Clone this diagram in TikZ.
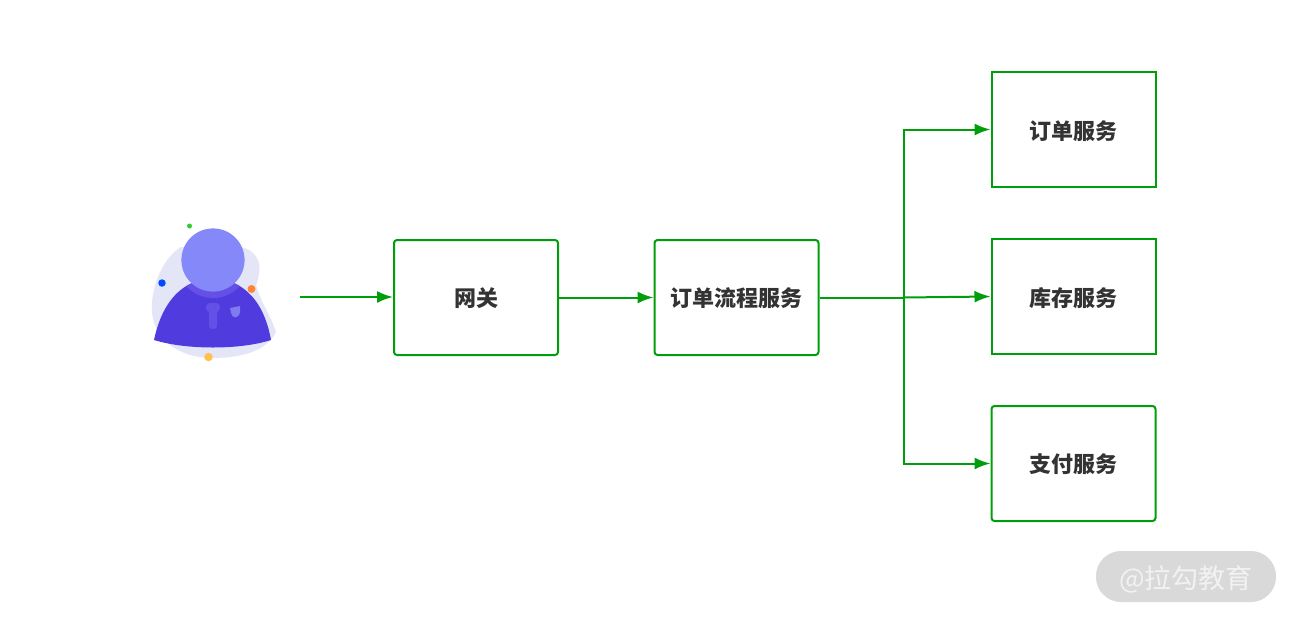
\documentclass[tikz,border=0pt]{standalone}
\usepackage{fontspec}
\setmainfont{Noto Sans CJK SC}
\usetikzlibrary{arrows.meta}
\definecolor{boxgreen}{rgb}{0.0,0.62,0.04}
\definecolor{labelgray}{rgb}{0.2,0.2,0.2}
\definecolor{blobblue}{HTML}{E4E6F7}
\definecolor{headblue}{HTML}{8588F8}
\definecolor{bodyblue}{HTML}{4F3BDE}
\definecolor{collarblue}{HTML}{6450E6}
\definecolor{pocketblue}{HTML}{7F7CF0}
\tikzset{
	servicebox/.style={draw=boxgreen, line width=2pt, fill=white, minimum width=164pt, minimum height=115pt, inner sep=0pt, text=labelgray, text height=20pt, text depth=0pt, font=\fontsize{22}{26}\selectfont\bfseries},
	roundbox/.style={servicebox, rounded corners=3pt, text depth=1.2pt},
	flowline/.style={draw=boxgreen, line width=2pt, -{Latex[length=16pt,width=12pt]}},
	dot/.style={circle, inner sep=0pt, minimum size=#1}
}
\begin{document}
\begin{tikzpicture}[x=1pt, y=-1pt]
	\useasboundingbox (0,0) rectangle (1296,619);
	\fill[blobblue] (181,247) .. controls (162,258) and (150,290) .. (152,312) .. controls (154,340) and (180,358) .. (212,358) .. controls (240,358) and (266,352) .. (276,332) .. controls (272,318) and (262,305) .. (256,285) .. controls (264,265) and (258,250) .. (240,247) -- cycle;
	\fill[bodyblue] (154,340) .. controls (160,312) and (172,293) .. (190,284) -- (213,275) -- (236,284) .. controls (254,293) and (266,312) .. (271,340) .. controls (240,350) and (186,350) .. (154,340) -- cycle;
	\begin{scope}
		\clip (154,340) .. controls (160,312) and (172,293) .. (190,284) -- (213,275) -- (236,284) .. controls (254,293) and (266,312) .. (271,340) -- cycle;
		\fill[collarblue] (213,262) circle (36);
	\end{scope}
	\fill[headblue] (213,260) circle (31.6);
	\fill[collarblue, rounded corners=3pt] (209,306) rectangle (217,329);
	\fill[collarblue, rounded corners=4pt] (206,303) rectangle (220,312);
	\fill[pocketblue] (230,308) -- (240,306) -- (240,312) .. controls (239,319) and (232,319) .. (231,313) -- cycle;
	\node[dot=7.5pt, fill=blue!70!cyan] (bluedot) at (162,283) {};
	\node[dot=5pt, fill=green!75!black!80] (greendot) at (189.5,226) {};
	\node[dot=8pt, fill=orange!80!red!80] (orangedot) at (251.5,289) {};
	\node[dot=8.5pt, fill=orange!70!yellow!70] (yellowdot) at (208.5,357) {};

	\coordinate (user) at (300,297);
	\node[roundbox] (gateway) at (476,297.5) {网关};
	\node[roundbox] (orderflow) at (736.5,297.5) {订单流程服务};
	\node[servicebox] (order) at (1073.5,129.5) {订单服务};
	\node[servicebox] (stock) at (1073.5,296.5) {库存服务};
	\node[roundbox] (pay) at (1073.5,463.5) {支付服务};

	\coordinate (branch) at (904,297.5);
	\draw[flowline] (user) -- (gateway.west |- user);
	\draw[flowline] (gateway) -- (orderflow);
	\draw[flowline] (orderflow.east) -- (branch) |- (order.west);
	\draw[flowline] (branch) -- (stock.west);
	\draw[flowline] (orderflow.east) -- (branch) |- (pay.west);

	\node[fill=black!15, draw=none, rounded corners=25pt, minimum width=180pt, minimum height=51pt, inner sep=0pt, text=black!5, text height=24pt, text depth=0.4pt, font=\fontsize{27}{30}\selectfont] (watermark) at (1186,576.5) {@拉勾教育};
\end{tikzpicture}
\end{document}
